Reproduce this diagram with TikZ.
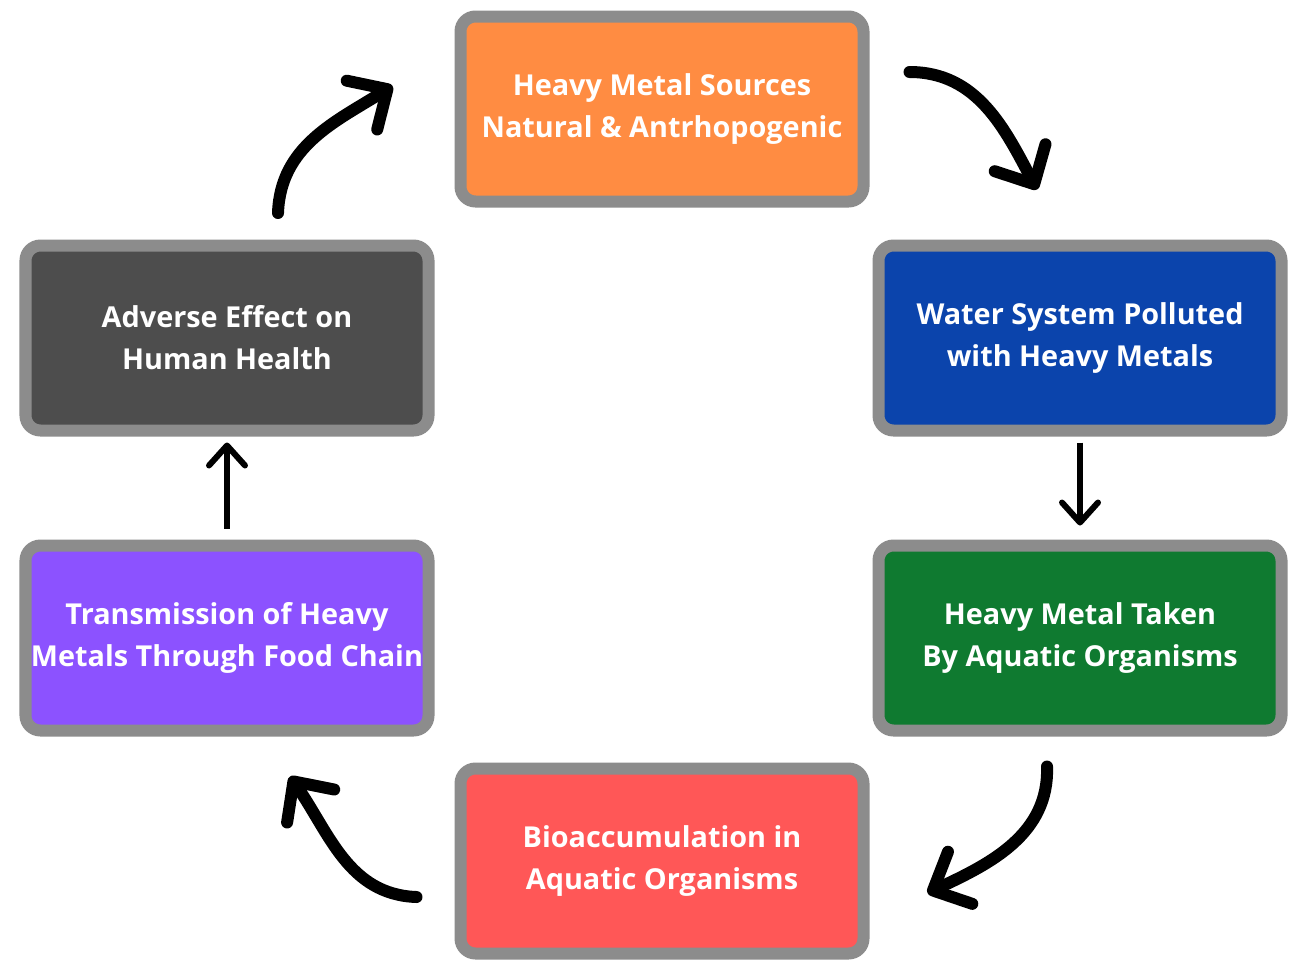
\documentclass[tikz,border=0pt]{standalone}
\usepackage{fontspec}
\setmainfont{Open Sans}
\usetikzlibrary{arrows.meta}

\definecolor{borderGray}{HTML}{8C8C8C}
\definecolor{sourcesOrange}{HTML}{FF8C42}
\definecolor{waterBlue}{HTML}{0B44AC}
\definecolor{takenGreen}{HTML}{0F7A30}
\definecolor{bioRed}{HTML}{FF5757}
\definecolor{transPurple}{HTML}{8C52FF}
\definecolor{adverseGray}{HTML}{4D4D4D}

\tikzstyle{s} = [rectangle, rounded corners=0.3cm, minimum width=8.06cm, minimum height=3.7cm, inner xsep=0pt, align=center, draw=borderGray, line width=0.24cm, text=white, font=\bfseries\fontsize{16.4}{24}\selectfont]
\tikzstyle{curly} = [line width=0.24cm, line cap=round, -{Straight Barb[length=0.6cm, width=1.15cm, line cap=round, line join=round]}]
\tikzstyle{straight} = [line width=0.12cm, -{Straight Barb[length=0.4cm, width=0.72cm, line cap=round, line join=round]}]

\begin{document}
\begin{tikzpicture}[node distance=6cm]
\useasboundingbox (0,0) rectangle (25.9,-19.48);

\node[s, fill=adverseGray] (adverse) at (4.54,-6.76) {Adverse Effect on\\Human Health};
\node[s, fill=transPurple] (transmission) [below of=adverse] {Transmission of Heavy\\Metals Through Food Chain};

\node[s, fill=waterBlue] (water) [right of=adverse, xshift=11.06cm] {Water System Polluted\\with Heavy Metals};
\node[s, fill=takenGreen] (taken) [below of=water] {Heavy Metal Taken\\By Aquatic Organisms};

\node[s, fill=sourcesOrange] (sources) [above of=adverse, xshift=8.7cm, yshift=-1.42cm] {Heavy Metal Sources\\Natural \& Antrhopogenic};
\node[s, fill=bioRed] (bioacc) [below of=transmission, xshift=8.7cm, yshift=1.54cm] {Bioaccumulation in\\Aquatic Organisms};

% hand drawn arrows round the cycle
\draw[curly] ([xshift=0.8cm, yshift=0.74cm]sources.east)
  to[out=0, in=118] ([xshift=-0.86cm, yshift=1.0cm]water.north);
\draw[straight, shorten <=0.12cm, shorten >=0.28cm] (water) -- (taken);
\draw[curly] ([xshift=-0.66cm, yshift=-0.6cm]taken.south)
  to[out=-88, in=25] ([xshift=1.16cm, yshift=-0.64cm]bioacc.east);
\draw[curly] ([xshift=-0.76cm, yshift=-0.72cm]bioacc.west)
  to[out=178, in=305] ([xshift=1.26cm, yshift=-0.8cm]transmission.south);
\draw[straight, shorten <=0.22cm, shorten >=0.12cm] (transmission) -- (adverse);
\draw[curly] ([xshift=1.02cm, yshift=0.53cm]adverse.north)
  to[out=88, in=212] ([xshift=-1.24cm, yshift=0.46cm]sources.west);

\end{tikzpicture}
\end{document}
